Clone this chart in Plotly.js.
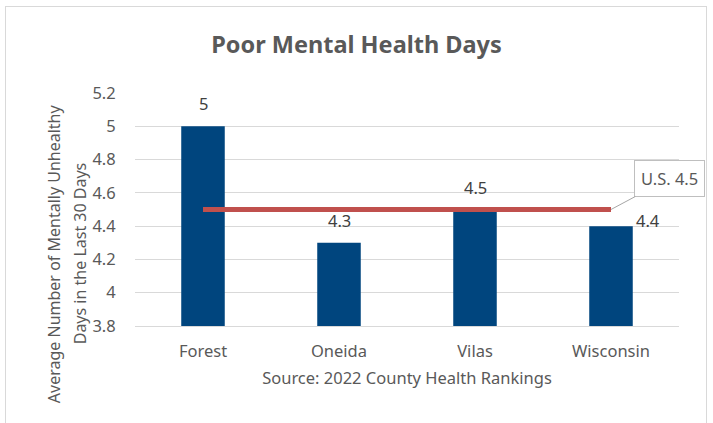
<!DOCTYPE html>
<html><head><meta charset="utf-8">
<script src="https://cdn.plot.ly/plotly-3.0.1.min.js"></script>
<style>
html,body{margin:0;padding:0;background:#fff;overflow:hidden}
#frame{position:absolute;left:5px;top:6px;width:702px;height:430px;border:1px solid #d9d9d9;box-sizing:border-box}
#chart{position:absolute;left:0;top:0;width:713px;height:423px}
</style></head>
<body><div id="frame"></div><div id="chart"></div>
<script>
const categories = ["Forest", "Oneida", "Vilas", "Wisconsin"];
const values = [5, 4.3, 4.5, 4.4];
const usValue = 4.5;
const usLabel = "U.S. 4.5";
const yTicks = [3.8, 4, 4.2, 4.4, 4.6, 4.8, 5, 5.2];
const yTitleLines = ["Average Number of Mentally Unhealthy", "Days in the Last 30 Days"];

const font = "Noto Sans, Open Sans, sans-serif";
const gray = "#595959";
const fs = 16.5;

const bars = {
  type: "bar", x: categories, y: values, width: 0.32,
  marker: {color: "#00457E"}, hoverinfo: "skip"
};
const usLine = {
  type: "scatter", mode: "lines", x: categories, y: categories.map(() => usValue),
  line: {color: "#C0504D", width: 5}, hoverinfo: "skip"
};

const labelShifts = [
  {xs: 0, ys: 23}, {xs: 0, ys: 22}, {xs: 0, ys: 22}, {xs: 37, ys: 6}
];
const annotations = categories.map((c, i) => ({
  x: c, y: values[i], text: String(values[i]), showarrow: false,
  xshift: labelShifts[i].xs, yshift: labelShifts[i].ys,
  font: {family: font, size: fs, color: "#404040"}
}));
annotations.push({
  x: categories[3], y: usValue, text: usLabel, showarrow: true,
  arrowhead: 0, arrowcolor: "#a6a6a6", arrowwidth: 1,
  ax: 58, ay: -31, standoff: 0,
  bordercolor: "#bfbfbf", borderwidth: 1, borderpad: 6, bgcolor: "#fff",
  font: {family: font, size: fs, color: gray}
});
// y axis title, two rotated lines
const yTitlePos = [{x: -0.150, y: 0.31}, {x: -0.102, y: 0.31}];
yTitleLines.forEach((t, i) => annotations.push({
  xref: "paper", yref: "paper", x: yTitlePos[i].x, y: yTitlePos[i].y,
  xanchor: "center", yanchor: "middle", textangle: -90, showarrow: false,
  text: t, font: {family: font, size: 16, color: gray}
}));

const layout = {
  width: 713, height: 423,
  margin: {l: 135, r: 34, t: 93, b: 97},
  paper_bgcolor: "rgba(0,0,0,0)", plot_bgcolor: "rgba(0,0,0,0)",
  showlegend: false,
  title: {text: "<b>Poor Mental Health Days</b>", x: 0.5, xanchor: "center",
          y: 0.893, yanchor: "middle",
          font: {family: font, size: 23.5, color: gray}},
  xaxis: {
    type: "category", range: [-0.5, 3.5], autorange: false,
    showgrid: false, showline: true, linecolor: "#d9d9d9", linewidth: 1,
    ticks: "outside", ticklen: 10, tickcolor: "rgba(0,0,0,0)",
    tickfont: {family: font, size: fs, color: gray},
    title: {text: "Source: 2022 County Health Rankings", standoff: 11,
            font: {family: font, size: fs, color: gray}}
  },
  yaxis: {
    range: [3.8, 5.2], autorange: false, tickvals: yTicks, ticktext: yTicks.map(String),
    showgrid: true, gridcolor: "#d9d9d9", zeroline: false, showline: false,
    ticks: "outside", ticklen: 15, tickcolor: "rgba(0,0,0,0)",
    tickfont: {family: font, size: fs, color: gray}
  },
  annotations: annotations
};
Plotly.newPlot("chart", [bars, usLine], layout, {staticPlot: true, displayModeBar: false});
</script></body></html>
